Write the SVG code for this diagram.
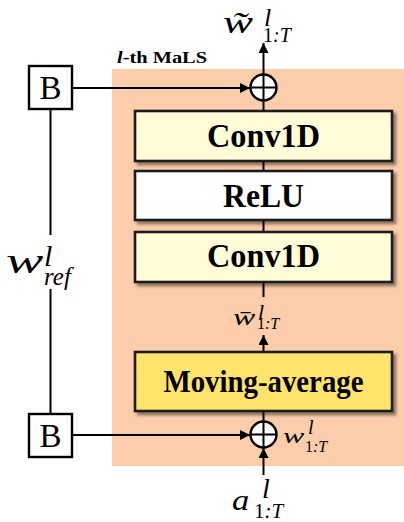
<svg xmlns="http://www.w3.org/2000/svg" width="404" height="522" viewBox="0 0 404 522">
  <style>
    .blk { stroke: #1a1a1a; stroke-width: 2.6; }
    .lbl { font-family: "Liberation Serif", "Times New Roman", serif; font-weight: bold; text-anchor: middle; fill: #000; }
    .math { font-family: "Liberation Serif", "Times New Roman", serif; font-style: italic; fill: #000; }
    .up { font-family: "Liberation Serif", "Times New Roman", serif; font-style: normal; fill: #000; }
    .wire { stroke: #000; stroke-width: 2; fill: none; }
    .sum { fill: #fff; stroke: #000; stroke-width: 2.4; }
    .bbox { fill: #fff; stroke: #000; stroke-width: 2.4; }
  </style>
  <defs>
    <marker id="arr" viewBox="0 0 10 10" refX="10" refY="5" markerWidth="10" markerHeight="10" markerUnits="userSpaceOnUse" orient="auto">
      <path d="M0,0 L10,5 L0,10 Z" fill="#000"/>
    </marker>
    <filter id="shadow" x="-5%" y="-10%" width="115%" height="130%">
      <feGaussianBlur in="SourceAlpha" stdDeviation="1.5"/>
      <feOffset dx="3" dy="3" result="off"/>
      <feComponentTransfer><feFuncA type="linear" slope="0.45"/></feComponentTransfer>
      <feMerge><feMergeNode/><feMergeNode in="SourceGraphic"/></feMerge>
    </filter>
  </defs>

  <rect width="404" height="522" fill="#fff"/>

  <!-- layer background -->
  <g id="mals">
    <rect x="112" y="69" width="292" height="397" fill="#fbcdab"/>
    <text x="117" y="63" font-family="Liberation Serif, serif" font-weight="bold" font-size="17" textLength="90" lengthAdjust="spacingAndGlyphs"><tspan font-style="italic">l</tspan>-th MaLS</text>
  </g>

  <!-- connectors -->
  <g id="connectors">
    <line class="wire" x1="72" y1="88" x2="250" y2="88" marker-end="url(#arr)"/>
    <line class="wire" x1="263.5" y1="74" x2="263.5" y2="43" marker-end="url(#arr)"/>
    <line class="wire" x1="263.5" y1="111" x2="263.5" y2="101"/>
    <line class="wire" x1="263.5" y1="161" x2="263.5" y2="171"/>
    <line class="wire" x1="263.5" y1="220" x2="263.5" y2="232"/>
    <line class="wire" x1="263.5" y1="282" x2="263.5" y2="297"/>
    <line class="wire" x1="263.5" y1="352" x2="263.5" y2="335" marker-end="url(#arr)"/>
    <line class="wire" x1="263.5" y1="411" x2="263.5" y2="421"/>
    <line class="wire" x1="72" y1="435" x2="250" y2="435" marker-end="url(#arr)"/>
    <line class="wire" x1="263.5" y1="475" x2="263.5" y2="448" marker-end="url(#arr)"/>
    <line class="wire" x1="50.5" y1="109" x2="50.5" y2="235"/>
    <line class="wire" x1="50.5" y1="289" x2="50.5" y2="414"/>
  </g>

  <!-- processing blocks -->
  <g id="conv1">
    <rect class="blk" x="135" y="111" width="257" height="50" fill="#fffdd8" filter="url(#shadow)"/>
    <text class="lbl" x="263.5" y="147" font-size="34" textLength="113" lengthAdjust="spacingAndGlyphs">Conv1D</text>
  </g>
  <g id="relu">
    <rect class="blk" x="135" y="171" width="257" height="49" fill="#fff" filter="url(#shadow)"/>
    <text class="lbl" x="263.5" y="207" font-size="34" textLength="81" lengthAdjust="spacingAndGlyphs">ReLU</text>
  </g>
  <g id="conv2">
    <rect class="blk" x="135" y="232" width="257" height="50" fill="#fffdd8" filter="url(#shadow)"/>
    <text class="lbl" x="263.5" y="267" font-size="34" textLength="113" lengthAdjust="spacingAndGlyphs">Conv1D</text>
  </g>
  <g id="movavg">
    <rect class="blk" x="135" y="352" width="257" height="59" fill="#ffe36b" filter="url(#shadow)"/>
    <text class="lbl" x="263.5" y="392" font-size="32" textLength="200" lengthAdjust="spacingAndGlyphs">Moving-average</text>
  </g>

  <!-- summation nodes -->
  <g id="sum-top">
    <circle class="sum" cx="263.5" cy="87.5" r="13"/>
    <path class="wire" d="M250.5,87.5 H276.5 M263.5,74.5 V100.5"/>
  </g>
  <g id="sum-bottom">
    <circle class="sum" cx="263.5" cy="434.5" r="13"/>
    <path class="wire" d="M250.5,434.5 H276.5 M263.5,421.5 V447.5"/>
  </g>

  <!-- broadcast blocks -->
  <g id="b-top">
    <rect class="bbox" x="29" y="66" width="43" height="43"/>
    <text class="up" x="50.5" y="99" font-size="33" text-anchor="middle">B</text>
  </g>
  <g id="b-bottom">
    <rect class="bbox" x="29" y="414" width="43" height="43"/>
    <text class="up" x="50.5" y="447" font-size="33" text-anchor="middle">B</text>
  </g>

  <!-- signal labels -->
  <g id="labels">
    <!-- output: w tilde -->
    <text class="math" transform="translate(223,33) scale(1.45,1)" font-size="31">w̃</text>
    <text class="math" font-size="26"><tspan x="264" y="26">l</tspan><tspan class="up" x="263" y="42" font-size="20">1</tspan><tspan font-size="20">:T</tspan></text>

    <!-- reference weight -->
    <text class="math" transform="translate(6,273) scale(1.6,1)" font-size="35">w</text>
    <text class="math" font-size="30"><tspan x="44" y="266">l</tspan><tspan x="44" y="285" font-size="25">ref</tspan></text>

    <!-- moving-average output: w bar -->
    <text class="math" transform="translate(233,325) scale(1.45,1)" font-size="23">w̄</text>
    <text class="math" font-size="22"><tspan x="258" y="319">l</tspan><tspan class="up" x="257" y="329" font-size="16">1</tspan><tspan font-size="16">:T</tspan></text>

    <!-- input-side sum -->
    <text class="math" transform="translate(283,443) scale(1.45,1)" font-size="22">w</text>
    <text class="math" font-size="20"><tspan x="308" y="434">l</tspan><tspan class="up" x="305" y="452" font-size="16">1</tspan><tspan font-size="16">:T</tspan></text>

    <!-- input activation -->
    <text class="math" transform="translate(232,510) scale(1.15,1)" font-size="30">a</text>
    <text class="math" font-size="28"><tspan x="262" y="498">l</tspan><tspan class="up" x="254" y="518" font-size="21">1</tspan><tspan font-size="21">:T</tspan></text>
  </g>
</svg>
